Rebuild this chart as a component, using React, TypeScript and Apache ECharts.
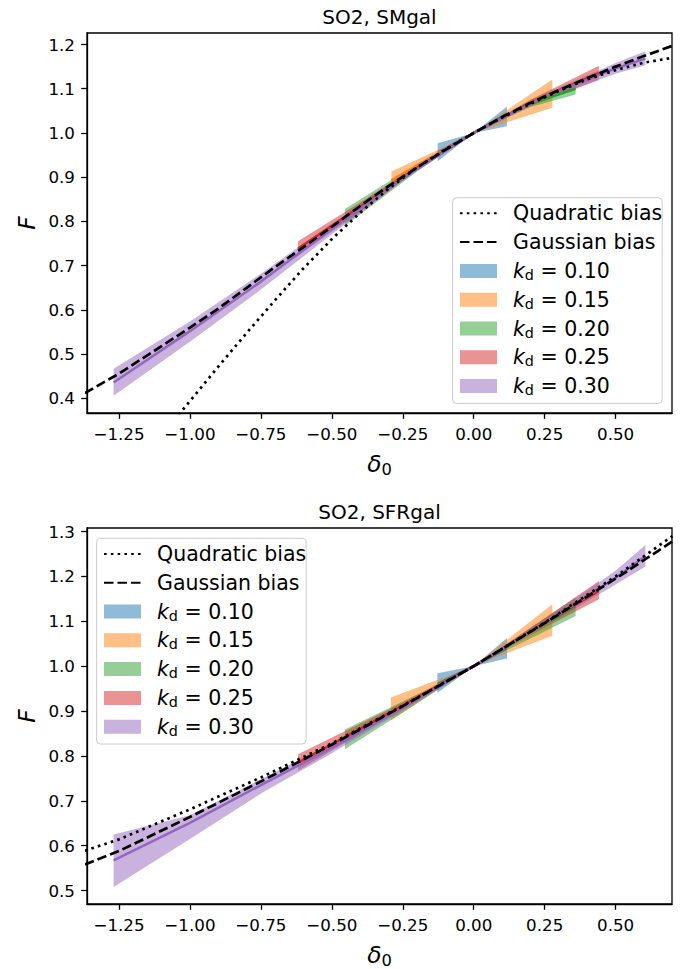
import React, { useEffect, useRef } from 'react';
import * as echarts from 'echarts';

const FONT = 'DejaVu Sans';

// axis ticks
const X_TICKS = [-1.25, -1.0, -0.75, -0.5, -0.25, 0, 0.25, 0.5];
const Y_TICKS_TOP = [0.4, 0.5, 0.6, 0.7, 0.8, 0.9, 1.0, 1.1, 1.2];
const Y_TICKS_BOT = [0.5, 0.6, 0.7, 0.8, 0.9, 1.0, 1.1, 1.2, 1.3];

const TITLES = ['SO2, SMgal', 'SO2, SFRgal'];
const KD_LABELS = ['0.10', '0.15', '0.20', '0.25', '0.30'];
const KD_COLORS = ['#1f77b4', '#ff7f0e', '#2ca02c', '#d62728', '#9467bd'];
const KD_FILLS = [
  'rgba(31,119,180,0.5)',
  'rgba(255,127,14,0.5)',
  'rgba(44,160,44,0.5)',
  'rgba(214,39,40,0.5)',
  'rgba(148,103,189,0.5)',
];

// ---------- top panel (SMgal) ----------
const QUAD_TOP_X = [-1.04, -1.0, -0.9, -0.8, -0.7, -0.6, -0.5, -0.4, -0.3, -0.2, -0.1, 0, 0.1, 0.2, 0.3, 0.4, 0.5, 0.6, 0.7];
const QUAD_TOP_Y = [0.363, 0.394, 0.472, 0.548, 0.622, 0.694, 0.760, 0.820, 0.874, 0.922, 0.963, 1.0, 1.035, 1.066, 1.095, 1.121, 1.142, 1.159, 1.170];
const GAUSS_TOP_X = [-1.37, -1.25, -1.1, -1.0, -0.9, -0.8, -0.7, -0.6, -0.5, -0.4, -0.3, -0.2, -0.1, 0, 0.1, 0.2, 0.3, 0.4, 0.5, 0.6, 0.7];
const GAUSS_TOP_Y = [0.412, 0.456, 0.518, 0.560, 0.603, 0.650, 0.697, 0.742, 0.788, 0.835, 0.880, 0.922, 0.962, 1.0, 1.036, 1.068, 1.097, 1.124, 1.150, 1.174, 1.197];

const T010_X = [-0.127, 0, 0.117];
const T010_LO = [0.936, 1.0, 1.015];
const T010_HI = [0.977, 1.0, 1.060];
const T010_MID = [0.955, 1.0, 1.043];

const T015_X = [-0.29, -0.15, 0, 0.15, 0.277];
const T015_LO = [0.879, 0.938, 1.0, 1.031, 1.057];
const T015_HI = [0.913, 0.955, 1.0, 1.066, 1.121];
const T015_MID = [0.893, 0.945, 1.0, 1.050, 1.089];

const T020_X = [-0.454, -0.2, 0, 0.2, 0.359];
const T020_LO = [0.790, 0.913, 1.0, 1.059, 1.087];
const T020_HI = [0.828, 0.930, 1.0, 1.074, 1.114];
const T020_MID = [0.808, 0.921, 1.0, 1.066, 1.100];

const T025_X = [-0.619, -0.4, -0.2, 0, 0.2, 0.441];
const T025_LO = [0.723, 0.822, 0.916, 1.0, 1.061, 1.120];
const T025_HI = [0.755, 0.843, 0.926, 1.0, 1.075, 1.152];
const T025_MID = [0.739, 0.833, 0.921, 1.0, 1.068, 1.136];

const T030_X = [-1.269, -1.0, -0.75, -0.5, -0.25, 0, 0.25, 0.5, 0.605];
const T030_LO = [0.406, 0.528, 0.646, 0.771, 0.892, 1.0, 1.076, 1.134, 1.153];
const T030_HI = [0.467, 0.574, 0.682, 0.795, 0.904, 1.0, 1.088, 1.158, 1.185];
const T030_MID = [0.436, 0.552, 0.664, 0.783, 0.898, 1.0, 1.082, 1.146, 1.168];

// ---------- bottom panel (SFRgal) ----------
const QUAD_BOT_X = [-1.37, -1.25, -1.0, -0.75, -0.5, -0.25, 0, 0.25, 0.5, 0.7];
const QUAD_BOT_Y = [0.589, 0.614, 0.681, 0.752, 0.828, 0.912, 1.0, 1.097, 1.200, 1.290];
const GAUSS_BOT_X = [-1.37, -1.25, -1.0, -0.75, -0.5, -0.25, 0, 0.25, 0.5, 0.7];
const GAUSS_BOT_Y = [0.558, 0.588, 0.664, 0.743, 0.825, 0.911, 1.0, 1.096, 1.195, 1.278];

const B010_X = [-0.128, 0, 0.117];
const B010_LO = [0.940, 1.0, 1.017];
const B010_HI = [0.984, 1.0, 1.063];
const B010_MID = [0.960, 1.0, 1.040];

const B015_X = [-0.292, -0.15, 0, 0.15, 0.277];
const B015_LO = [0.879, 0.938, 1.0, 1.037, 1.068];
const B015_HI = [0.930, 0.964, 1.0, 1.075, 1.138];
const B015_MID = [0.899, 0.949, 1.0, 1.056, 1.102];

const B020_X = [-0.454, -0.2, 0, 0.2, 0.359];
const B020_LO = [0.815, 0.917, 1.0, 1.062, 1.112];
const B020_HI = [0.859, 0.937, 1.0, 1.085, 1.153];
const B020_MID = [0.840, 0.928, 1.0, 1.075, 1.133];

const B025_X = [-0.619, -0.3, 0, 0.25, 0.441];
const B025_LO = [0.767, 0.887, 1.0, 1.086, 1.149];
const B025_HI = [0.804, 0.903, 1.0, 1.107, 1.190];
const B025_MID = [0.785, 0.895, 1.0, 1.096, 1.168];

const B030_X = [-1.269, -1.0, -0.75, -0.5, -0.25, 0, 0.25, 0.5, 0.605];
const B030_LO = [0.508, 0.615, 0.716, 0.806, 0.901, 1.0, 1.088, 1.182, 1.222];
const B030_HI = [0.625, 0.668, 0.748, 0.828, 0.913, 1.0, 1.103, 1.213, 1.270];
const B030_MID = [0.567, 0.651, 0.735, 0.818, 0.907, 1.0, 1.095, 1.197, 1.245];

const PANELS = [
  {
    quad: [QUAD_TOP_X, QUAD_TOP_Y],
    gauss: [GAUSS_TOP_X, GAUSS_TOP_Y],
    bands: [
      [T010_X, T010_LO, T010_HI, T010_MID],
      [T015_X, T015_LO, T015_HI, T015_MID],
      [T020_X, T020_LO, T020_HI, T020_MID],
      [T025_X, T025_LO, T025_HI, T025_MID],
      [T030_X, T030_LO, T030_HI, T030_MID],
    ],
    yMin: 0.367, yMax: 1.226, yTicks: Y_TICKS_TOP,
    grid: { left: 87, top: 33, width: 585, height: 380 },
    legendPos: { left: 452.6, top: 197.7 },
    titleY: 16.5,
  },
  {
    quad: [QUAD_BOT_X, QUAD_BOT_Y],
    gauss: [GAUSS_BOT_X, GAUSS_BOT_Y],
    bands: [
      [B010_X, B010_LO, B010_HI, B010_MID],
      [B015_X, B015_LO, B015_HI, B015_MID],
      [B020_X, B020_LO, B020_HI, B020_MID],
      [B025_X, B025_LO, B025_HI, B025_MID],
      [B030_X, B030_LO, B030_HI, B030_MID],
    ],
    yMin: 0.470, yMax: 1.308, yTicks: Y_TICKS_BOT,
    grid: { left: 87, top: 528, width: 585, height: 379 },
    legendPos: { left: 96.6, top: 538.3 },
    titleY: 511.5,
  },
];

const X_MIN = -1.3627;
const X_MAX = 0.6987;

const kdName = (i: number) => `k_d = ${KD_LABELS[i]}`;

function fmtX(v: number) {
  const s = Math.abs(v).toFixed(2);
  return v < -1e-9 ? '\u2212' + s : s;
}

function buildOption() {
  const series: any[] = [];
  const xAxes: any[] = [];
  const yAxes: any[] = [];
  const grids: any[] = [];
  const legends: any[] = [];
  const graphics: any[] = [];

  PANELS.forEach((p, gi) => {
    grids.push({ ...p.grid, show: true, borderColor: '#000', borderWidth: 1.3, backgroundColor: 'transparent' });
    xAxes.push({
      type: 'value', gridIndex: gi, min: X_MIN, max: X_MAX,
      axisLine: { show: true, onZero: false, lineStyle: { color: '#000', width: 1.3 } },
      axisTick: { show: true, customValues: X_TICKS, length: 5.8, lineStyle: { color: '#000', width: 1.3 } },
      axisLabel: { customValues: X_TICKS, formatter: fmtX, margin: 12, fontSize: 16.7, color: '#000', fontFamily: FONT },
      splitLine: { show: false },
      name: '{d|δ}{s|0}', nameLocation: 'middle', nameGap: 36,
      nameTextStyle: {
        color: '#000',
        rich: {
          d: { fontSize: 23.3, fontStyle: 'italic', fontFamily: FONT, color: '#000', lineHeight: 28 },
          s: { fontSize: 16.3, fontFamily: FONT, color: '#000', lineHeight: 16, verticalAlign: 'bottom' },
        },
      },
    });
    yAxes.push({
      type: 'value', gridIndex: gi, min: p.yMin, max: p.yMax,
      axisLine: { show: true, onZero: false, lineStyle: { color: '#000', width: 1.3 } },
      axisTick: { show: true, customValues: p.yTicks, length: 5.8, lineStyle: { color: '#000', width: 1.3 } },
      axisLabel: { customValues: p.yTicks, formatter: (v: number) => v.toFixed(1), margin: 12, fontSize: 16.7, color: '#000', fontFamily: FONT },
      splitLine: { show: false },
      name: 'F', nameLocation: 'middle', nameGap: 47, nameRotate: 90,
      nameTextStyle: { fontSize: 23.3, fontStyle: 'italic', fontFamily: FONT, color: '#000' },
    });

    p.bands.forEach((b, i) => {
      const [xs, lo, hi, mid] = b as number[][];
      const fill = KD_FILLS[i];
      series.push({
        type: 'custom', name: kdName(i), xAxisIndex: gi, yAxisIndex: gi,
        silent: true, clip: true, z: 2,
        itemStyle: { color: fill },
        data: xs.map((x, k) => [x, lo[k], hi[k]]),
        encode: { x: 0, y: [1, 2] },
        renderItem: (params: any, api: any) => {
          if (params.dataIndex !== 0) return null;
          const upper = xs.map((x, k) => api.coord([x, hi[k]]));
          const lower = xs.map((x, k) => api.coord([x, lo[k]])).reverse();
          return { type: 'polygon', shape: { points: upper.concat(lower) }, style: { fill, stroke: null } };
        },
      });
      series.push({
        type: 'line', name: `mid-${gi}-${i}`, xAxisIndex: gi, yAxisIndex: gi,
        data: xs.map((x, k) => [x, mid[k]]),
        symbol: 'none', showSymbol: false, smooth: false, silent: true, z: 2,
        lineStyle: { color: KD_COLORS[i], width: 2.5 }, itemStyle: { color: KD_COLORS[i] },
      });
    });

    const [qx, qy] = p.quad;
    series.push({
      type: 'line', name: 'Quadratic bias', xAxisIndex: gi, yAxisIndex: gi,
      data: qx.map((x, k) => [x, qy[k]]),
      symbol: 'none', showSymbol: false, smooth: false, silent: true, clip: true, z: 3,
      lineStyle: { color: '#000', width: 2.7, type: [2.6, 4.2], cap: 'butt' }, itemStyle: { color: '#000', opacity: 0 },
    });
    const [gx, gy] = p.gauss;
    series.push({
      type: 'line', name: 'Gaussian bias', xAxisIndex: gi, yAxisIndex: gi,
      data: gx.map((x, k) => [x, gy[k]]),
      symbol: 'none', showSymbol: false, smooth: false, silent: true, clip: true, z: 3,
      lineStyle: { color: '#000', width: 2.7, type: [9.5, 4], cap: 'butt' }, itemStyle: { color: '#000', opacity: 0 },
    });

    legends.push({
      orient: 'vertical', left: p.legendPos.left, top: p.legendPos.top,
      selectedMode: false,
      itemWidth: 37, itemHeight: 14, itemGap: 6.8,
      padding: [4.6, 0, 6.3, 6.4],
      backgroundColor: 'rgba(255,255,255,0.8)', borderColor: '#cccccc', borderWidth: 1, borderRadius: 4,
      data: [
        { name: 'Quadratic bias', itemStyle: { opacity: 0 } },
        { name: 'Gaussian bias', itemStyle: { opacity: 0 } },
        ...KD_LABELS.map((_, i) => ({ name: kdName(i), icon: 'rect' })),
      ],
      formatter: (name: string) => {
        if (name.startsWith('k_d')) {
          const v = name.split('= ')[1];
          return `{k|k}{s|d}{t| = ${v}}`;
        }
        return `{t|${name}}`;
      },
      textStyle: {
        color: '#000', fontFamily: FONT, fontSize: 20.5, lineHeight: 22, padding: [0, 0, 0, 11],
        rich: {
          t: { fontSize: 20.5, fontFamily: FONT, color: '#000', lineHeight: 22 },
          k: { fontSize: 20.5, fontFamily: FONT, fontStyle: 'italic', color: '#000', lineHeight: 22 },
          s: { fontSize: 14.3, fontFamily: FONT, color: '#000', lineHeight: 14, verticalAlign: 'bottom' },
        },
      },
    });

    graphics.push({
      type: 'text', x: 379.5, y: p.titleY, silent: true,
      style: {
        text: TITLES[gi], fontSize: 20, fontFamily: FONT, fill: '#000',
        align: 'center', verticalAlign: 'middle', textAlign: 'center', textVerticalAlign: 'middle',
      },
    });
  });

  return {
    animation: false,
    backgroundColor: '#ffffff',
    grid: grids,
    xAxis: xAxes,
    yAxis: yAxes,
    legend: legends,
    graphic: graphics,
    series,
  };
}

export default function App() {
  const ref = useRef<HTMLDivElement>(null);
  useEffect(() => {
    if (!ref.current) return;
    const chart = echarts.init(ref.current, null, { renderer: 'svg' });
    chart.setOption(buildOption() as any);
    return () => chart.dispose();
  }, []);
  return <div ref={ref} style={{ position: 'absolute', left: 0, top: 0, width: 686, height: 969 }} />;
}
